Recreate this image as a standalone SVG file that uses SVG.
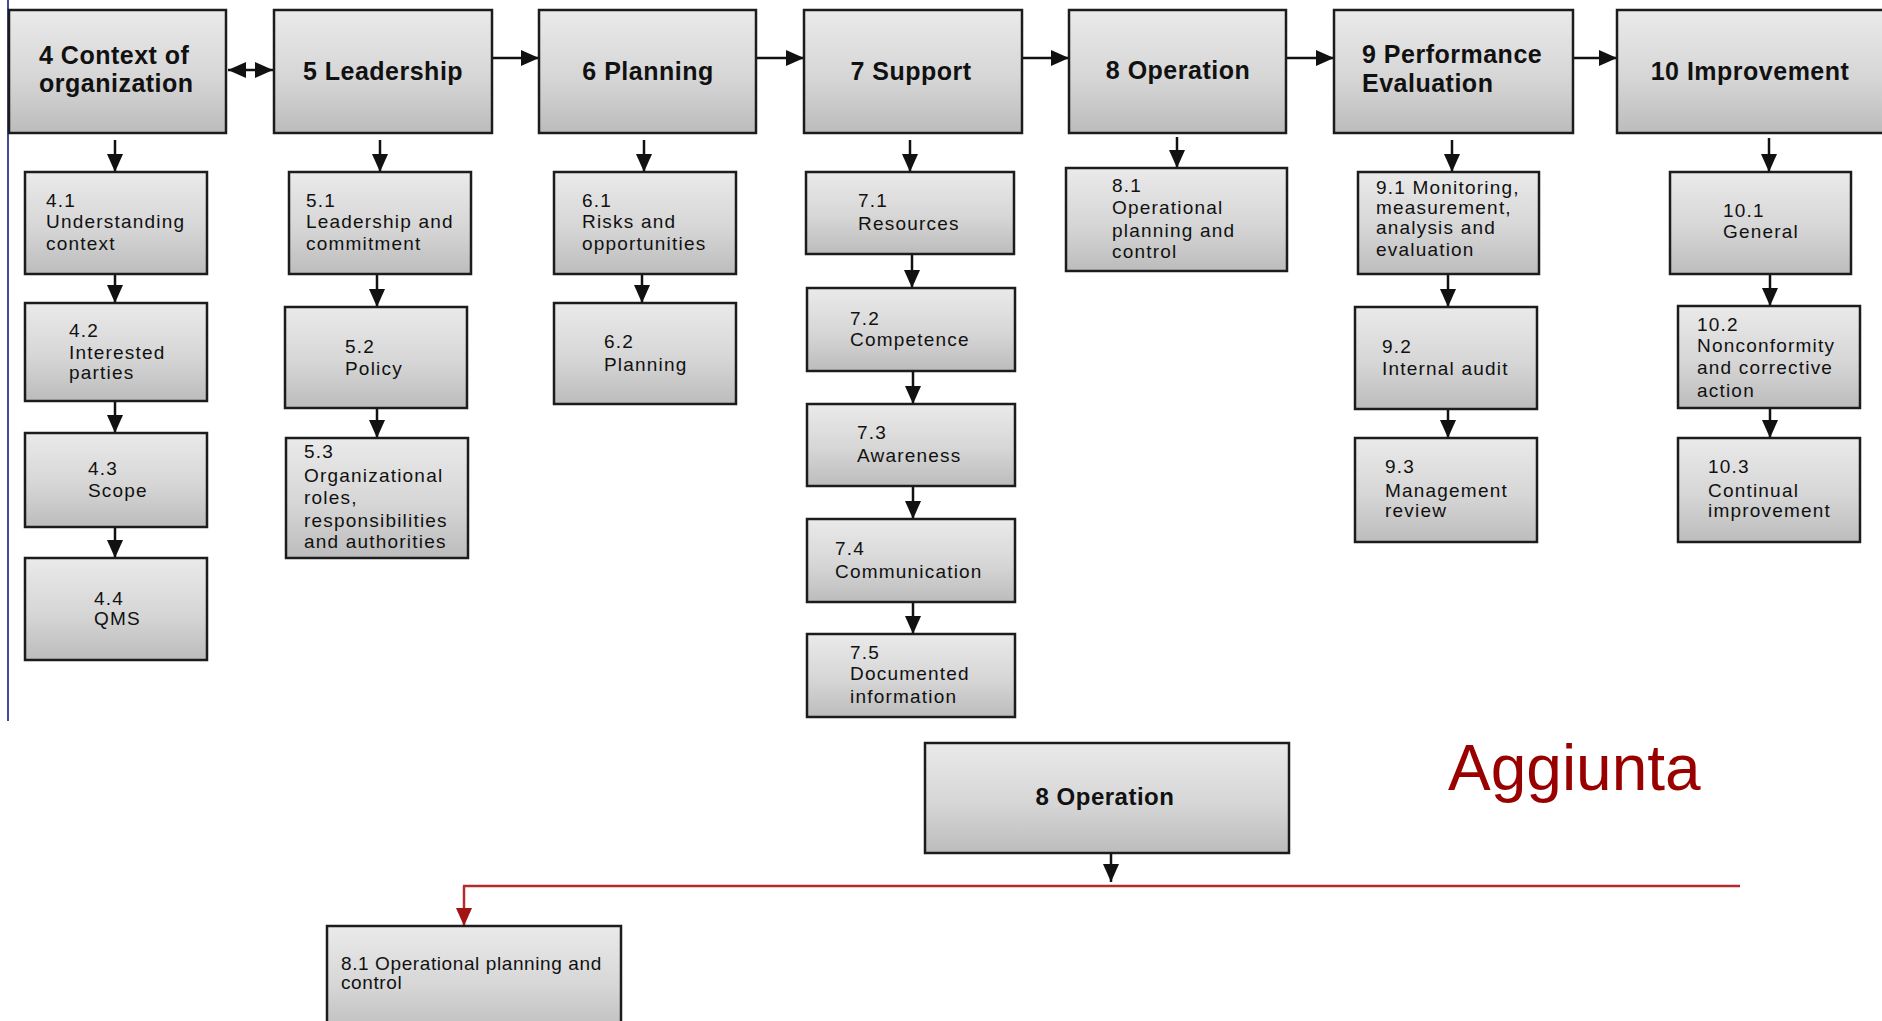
<svg xmlns="http://www.w3.org/2000/svg" width="1882" height="1021" viewBox="0 0 1882 1021">
  <defs>
    <linearGradient id="boxFill" x1="0" y1="0" x2="0" y2="1">
      <stop offset="0" stop-color="#eaeaea"/>
      <stop offset="0.55" stop-color="#d6d6d6"/>
      <stop offset="1" stop-color="#bcbcbc"/>
    </linearGradient>
    <marker id="arrow" viewBox="0 0 18 16" markerWidth="18" markerHeight="16" refX="18" refY="8" orient="auto-start-reverse" markerUnits="userSpaceOnUse">
      <path d="M0,0 L18,8 L0,16 Z" fill="#111"/>
    </marker>
    <marker id="arrowRed" viewBox="0 0 18 16" markerWidth="18" markerHeight="16" refX="18" refY="8" orient="auto" markerUnits="userSpaceOnUse">
      <path d="M0,0 L18,8 L0,16 Z" fill="#a01414"/>
    </marker>
  </defs>
  <style>
    .box { fill: url(#boxFill); stroke: #1c1c1c; stroke-width: 2.5; }
    .head { font-family: "Liberation Sans", Arial, sans-serif; font-weight: bold; font-size: 25px; letter-spacing: 0.5px; fill: #111; }
    .sub { font-family: "Liberation Sans", Arial, sans-serif; font-size: 19px; letter-spacing: 1.2px; fill: #111; }
    .link { stroke: #111; stroke-width: 2.5; fill: none; marker-end: url(#arrow); }
    .red { stroke: #b52a2a; stroke-width: 2.5; fill: none; }
  </style>

  <rect width="1882" height="1021" fill="#ffffff"/>

  <!-- slide margin rule -->
  <line x1="8" y1="0" x2="8" y2="721" stroke="#48489a" stroke-width="2"/>

  <!-- connectors -->
  <g id="connectors">
    <!-- main clause chain -->
    <line class="link" x1="228" y1="70" x2="273" y2="70" marker-start="url(#arrow)"/>
    <line class="link" x1="492" y1="58" x2="539" y2="58"/>
    <line class="link" x1="756" y1="58" x2="804" y2="58"/>
    <line class="link" x1="1022" y1="58" x2="1069" y2="58"/>
    <line class="link" x1="1286" y1="58" x2="1334" y2="58"/>
    <line class="link" x1="1573" y1="58" x2="1617" y2="58"/>
    <!-- clause 4 -->
    <line class="link" x1="115" y1="140" x2="115" y2="172"/>
    <line class="link" x1="115" y1="274" x2="115" y2="303"/>
    <line class="link" x1="115" y1="401" x2="115" y2="433"/>
    <line class="link" x1="115" y1="527" x2="115" y2="558"/>
    <!-- clause 5 -->
    <line class="link" x1="380" y1="140" x2="380" y2="172"/>
    <line class="link" x1="377" y1="274" x2="377" y2="307"/>
    <line class="link" x1="377" y1="408" x2="377" y2="438"/>
    <!-- clause 6 -->
    <line class="link" x1="644" y1="140" x2="644" y2="172"/>
    <line class="link" x1="642" y1="274" x2="642" y2="303"/>
    <!-- clause 7 -->
    <line class="link" x1="910" y1="140" x2="910" y2="172"/>
    <line class="link" x1="912" y1="254" x2="912" y2="288"/>
    <line class="link" x1="913" y1="371" x2="913" y2="404"/>
    <line class="link" x1="913" y1="486" x2="913" y2="519"/>
    <line class="link" x1="913" y1="602" x2="913" y2="634"/>
    <!-- clause 8 -->
    <line class="link" x1="1177" y1="137" x2="1177" y2="168"/>
    <!-- clause 9 -->
    <line class="link" x1="1452" y1="140" x2="1452" y2="172"/>
    <line class="link" x1="1448" y1="274" x2="1448" y2="307"/>
    <line class="link" x1="1448" y1="409" x2="1448" y2="438"/>
    <!-- clause 10 -->
    <line class="link" x1="1769" y1="138" x2="1769" y2="172"/>
    <line class="link" x1="1770" y1="274" x2="1770" y2="306"/>
    <line class="link" x1="1770" y1="408" x2="1770" y2="438"/>
    <!-- added operation branch -->
    <line class="link" x1="1111" y1="853" x2="1111" y2="882"/>
    <line class="red" x1="463" y1="886" x2="1740" y2="886"/>
    <line class="red" x1="464" y1="886" x2="464" y2="926" marker-end="url(#arrowRed)"/>
  </g>

  <!-- clause 4 -->
  <g id="n4">
    <rect class="box" x="9" y="10" width="217" height="123"/>
    <text class="head" x="39" y="64">4 Context of<tspan x="39" y="92">organization</tspan></text>
  </g>
  <g id="n4-1">
    <rect class="box" x="25" y="172" width="182" height="102"/>
    <text class="sub" x="46" y="207">4.1<tspan x="46" y="228">Understanding</tspan><tspan x="46" y="250">context</tspan></text>
  </g>
  <g id="n4-2">
    <rect class="box" x="25" y="303" width="182" height="98"/>
    <text class="sub" x="69" y="337">4.2<tspan x="69" y="359">Interested</tspan><tspan x="69" y="379">parties</tspan></text>
  </g>
  <g id="n4-3">
    <rect class="box" x="25" y="433" width="182" height="94"/>
    <text class="sub" x="88" y="475">4.3<tspan x="88" y="497">Scope</tspan></text>
  </g>
  <g id="n4-4">
    <rect class="box" x="25" y="558" width="182" height="102"/>
    <text class="sub" x="94" y="605">4.4<tspan x="94" y="625">QMS</tspan></text>
  </g>

  <!-- clause 5 -->
  <g id="n5">
    <rect class="box" x="274" y="10" width="218" height="123"/>
    <text class="head" x="383" y="80" text-anchor="middle">5 Leadership</text>
  </g>
  <g id="n5-1">
    <rect class="box" x="289" y="172" width="182" height="102"/>
    <text class="sub" x="306" y="207">5.1<tspan x="306" y="228">Leadership and</tspan><tspan x="306" y="250">commitment</tspan></text>
  </g>
  <g id="n5-2">
    <rect class="box" x="285" y="307" width="182" height="101"/>
    <text class="sub" x="345" y="353">5.2<tspan x="345" y="375">Policy</tspan></text>
  </g>
  <g id="n5-3">
    <rect class="box" x="286" y="438" width="182" height="120"/>
    <text class="sub" x="304" y="458">5.3<tspan x="304" y="482">Organizational</tspan><tspan x="304" y="504">roles,</tspan><tspan x="304" y="527">responsibilities</tspan><tspan x="304" y="548">and authorities</tspan></text>
  </g>

  <!-- clause 6 -->
  <g id="n6">
    <rect class="box" x="539" y="10" width="217" height="123"/>
    <text class="head" x="648" y="80" text-anchor="middle">6 Planning</text>
  </g>
  <g id="n6-1">
    <rect class="box" x="554" y="172" width="182" height="102"/>
    <text class="sub" x="582" y="207">6.1<tspan x="582" y="228">Risks and</tspan><tspan x="582" y="250">opportunities</tspan></text>
  </g>
  <g id="n6-2">
    <rect class="box" x="554" y="303" width="182" height="101"/>
    <text class="sub" x="604" y="348">6.2<tspan x="604" y="371">Planning</tspan></text>
  </g>

  <!-- clause 7 -->
  <g id="n7">
    <rect class="box" x="804" y="10" width="218" height="123"/>
    <text class="head" x="911" y="80" text-anchor="middle">7 Support</text>
  </g>
  <g id="n7-1">
    <rect class="box" x="806" y="172" width="208" height="82"/>
    <text class="sub" x="858" y="207">7.1<tspan x="858" y="230">Resources</tspan></text>
  </g>
  <g id="n7-2">
    <rect class="box" x="807" y="288" width="208" height="83"/>
    <text class="sub" x="850" y="325">7.2<tspan x="850" y="346">Competence</tspan></text>
  </g>
  <g id="n7-3">
    <rect class="box" x="807" y="404" width="208" height="82"/>
    <text class="sub" x="857" y="439">7.3<tspan x="857" y="462">Awareness</tspan></text>
  </g>
  <g id="n7-4">
    <rect class="box" x="807" y="519" width="208" height="83"/>
    <text class="sub" x="835" y="555">7.4<tspan x="835" y="578">Communication</tspan></text>
  </g>
  <g id="n7-5">
    <rect class="box" x="807" y="634" width="208" height="83"/>
    <text class="sub" x="850" y="659">7.5<tspan x="850" y="680">Documented</tspan><tspan x="850" y="703">information</tspan></text>
  </g>

  <!-- clause 8 -->
  <g id="n8">
    <rect class="box" x="1069" y="10" width="217" height="123"/>
    <text class="head" x="1178" y="79" text-anchor="middle">8 Operation</text>
  </g>
  <g id="n8-1">
    <rect class="box" x="1066" y="168" width="221" height="103"/>
    <text class="sub" x="1112" y="192">8.1<tspan x="1112" y="214">Operational</tspan><tspan x="1112" y="237">planning and</tspan><tspan x="1112" y="258">control</tspan></text>
  </g>

  <!-- clause 9 -->
  <g id="n9">
    <rect class="box" x="1334" y="10" width="239" height="123"/>
    <text class="head" x="1362" y="63">9 Performance<tspan x="1362" y="92">Evaluation</tspan></text>
  </g>
  <g id="n9-1">
    <rect class="box" x="1358" y="172" width="181" height="102"/>
    <text class="sub" x="1376" y="194">9.1 Monitoring,<tspan x="1376" y="214">measurement,</tspan><tspan x="1376" y="234">analysis and</tspan><tspan x="1376" y="256">evaluation</tspan></text>
  </g>
  <g id="n9-2">
    <rect class="box" x="1355" y="307" width="182" height="102"/>
    <text class="sub" x="1382" y="353">9.2<tspan x="1382" y="375">Internal audit</tspan></text>
  </g>
  <g id="n9-3">
    <rect class="box" x="1355" y="438" width="182" height="104"/>
    <text class="sub" x="1385" y="473">9.3<tspan x="1385" y="497">Management</tspan><tspan x="1385" y="517">review</tspan></text>
  </g>

  <!-- clause 10 -->
  <g id="n10">
    <rect class="box" x="1617" y="10" width="280" height="123"/>
    <text class="head" x="1750" y="80" text-anchor="middle">10 Improvement</text>
  </g>
  <g id="n10-1">
    <rect class="box" x="1670" y="172" width="181" height="102"/>
    <text class="sub" x="1723" y="217">10.1<tspan x="1723" y="238">General</tspan></text>
  </g>
  <g id="n10-2">
    <rect class="box" x="1678" y="306" width="182" height="102"/>
    <text class="sub" x="1697" y="331">10.2<tspan x="1697" y="352">Nonconformity</tspan><tspan x="1697" y="374">and corrective</tspan><tspan x="1697" y="397">action</tspan></text>
  </g>
  <g id="n10-3">
    <rect class="box" x="1678" y="438" width="182" height="104"/>
    <text class="sub" x="1708" y="473">10.3<tspan x="1708" y="497">Continual</tspan><tspan x="1708" y="517">improvement</tspan></text>
  </g>

  <!-- added operation block -->
  <g id="n8-added">
    <rect class="box" x="925" y="743" width="364" height="110"/>
    <text class="head" x="1105" y="805" text-anchor="middle" style="font-size:24px">8 Operation</text>
  </g>
  <g id="n8-1-added">
    <rect class="box" x="327" y="926" width="294" height="110"/>
    <text class="sub" x="341" y="970" style="letter-spacing:0.6px">8.1 Operational planning and<tspan x="341" y="989">control</tspan></text>
  </g>

  <g id="label-aggiunta">
    <text x="1448" y="790" font-family="'Liberation Sans', Arial, sans-serif" font-size="64" fill="#990000">Aggiunta</text>
  </g>
</svg>
